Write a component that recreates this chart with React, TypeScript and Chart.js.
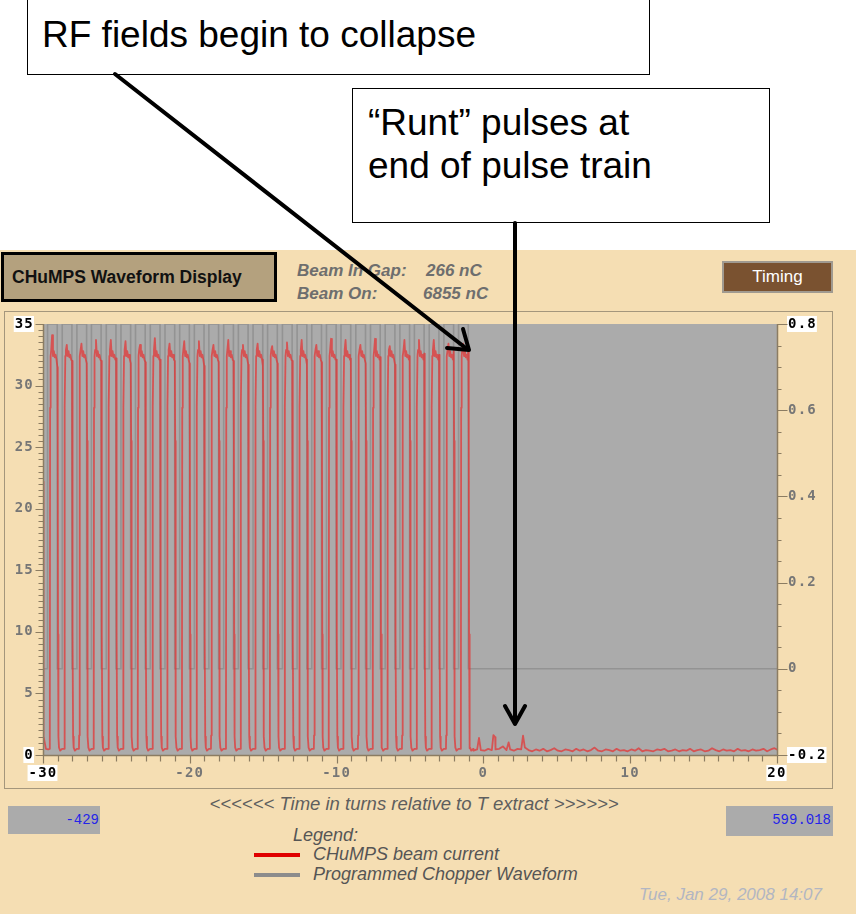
import React, { useEffect, useRef } from "react";
import { Chart, registerables } from "chart.js";

Chart.register(...registerables);

// ---------------- axes ----------------
const timeTicks = [-30, -20, -10, 0, 10, 20];
const currentTicks = [0, 5, 10, 15, 20, 25, 30, 35];
const chopperTicks = [-0.2, 0, 0.2, 0.4, 0.6, 0.8];

// ---------------- beam current pulses (turns, nC) ----------------
const pulseRise = [
  -29.55, -28.55, -27.55, -26.56, -25.55, -24.55, -23.56, -22.55, -21.55, -20.55,
  -19.55, -18.56, -17.55, -16.55, -15.55, -14.56, -13.55, -12.55, -11.55, -10.55,
  -9.56, -8.55, -7.55, -6.55, -5.55, -4.56, -3.55, -2.55, -1.55,
];
const pulsePeak = [
  34.1, 33.3, 33.4, 33.7, 33.7, 33.6, 33.3, 33.85, 33.4, 33.6,
  33.6, 33.3, 33.7, 33.3, 33.4, 33.2, 33.5, 33.7, 33.3, 33.8,
  33.7, 33.3, 33.8, 33.2, 33.7, 33.7, 33.7, 33.4, 33.4,
];
const pulseTail = [
  31.5, 32.0, 31.8, 32.0, 32.2, 31.8, 31.9, 32.1, 32.0, 31.8,
  31.6, 31.9, 32.0, 31.7, 31.6, 31.8, 32.0, 31.7, 31.9, 32.1,
  32.2, 31.8, 32.3, 31.7, 32.4, 32.6, 32.5, 32.8, 33.0,
];
// shape of one pulse: offsets from rise (turns) and levels (nC); "P" = peak, "T" = tail
const pulseShapeT = [0.0, 0.015, 0.035, 0.07, 0.11, 0.17, 0.23, 0.29, 0.35, 0.41, 0.47, 0.53, 0.555, 0.575, 0.6, 0.64, 0.72, 0.85];
const pulseShapeY: (number | string)[] = [0.5, 1.6, 28.2, 32.4, 32.9, "P", 32.4, 32.8, 32.3, 32.5, 32.1, "T", 25.5, 9.8, 1.5, 0.6, 0.35, 0.5];

// partial pulse at the left edge
const leadInX = [-30, -29.98, -29.95, -29.8, -29.65];
const leadInY = [22.2, 9.5, 1.5, 0.5, 0.45];

// residual beam after the pulse train
const tailStart = -0.925;
const tailStep = 0.25;
const tailY = [
  0.55, 0.35, 0.45, 0.4, 0.35, 0.5, 0.4, 0.45, 0.5, 0.7, 0.4, 0.45, 0.35, 0.5, 0.45, 0.6, 0.4, 0.3,
  0.45, 0.35, 0.5, 0.3, 0.4, 0.55, 0.35, 0.3, 0.45, 0.4,
  0.3, 0.5, 0.35, 0.45, 0.3, 0.4, 0.6, 0.35, 0.3, 0.45,
  0.4, 0.3, 0.5, 0.35, 0.4, 0.3, 0.45, 0.35, 0.55, 0.3,
  0.4, 0.35, 0.3, 0.45, 0.4, 0.5, 0.3, 0.35, 0.45, 0.3,
  0.4, 0.35, 0.5, 0.3, 0.4, 0.45, 0.3, 0.35, 0.55, 0.4,
  0.3, 0.45, 0.35, 0.4, 0.3, 0.5, 0.35, 0.4, 0.3, 0.45,
  0.35, 0.4, 0.5, 0.3, 0.45, 0.55, 0.4,
];
// "runt" pulses
const runtX = [-0.3, 0.68, 0.8, 1.72, 2.7];
const runtY = [1.38, 1.62, 1.45, 1.03, 1.57];

// ---------------- programmed chopper waveform (right axis) ----------------
const chopperOn = [
  -29.69, -28.69, -27.69, -26.7, -25.69, -24.69, -23.7, -22.69, -21.69, -20.69,
  -19.69, -18.7, -17.69, -16.69, -15.69, -14.7, -13.69, -12.69, -11.69, -10.69,
  -9.7, -8.69, -7.69, -6.69, -5.69, -4.7, -3.69, -2.69, -1.69,
];
const chopperOff = [
  -29.03, -28.03, -27.03, -26.04, -25.03, -24.03, -23.04, -22.03, -21.03, -20.03,
  -19.03, -18.04, -17.03, -16.03, -15.03, -14.04, -13.03, -12.03, -11.03, -10.03,
  -9.04, -8.03, -7.03, -6.03, -5.03, -4.04, -3.03, -2.03, -1.03,
];
const chopperHigh = 0.8;
const chopperLow = 0;

function buildBeam() {
  const pts: { x: number; y: number }[] = [];
  leadInX.forEach((x, i) => pts.push({ x, y: leadInY[i] }));
  pulseRise.forEach((r, k) => {
    pulseShapeT.forEach((dt, i) => {
      const s = pulseShapeY[i];
      const y = s === "P" ? pulsePeak[k] : s === "T" ? pulseTail[k] : (s as number);
      pts.push({ x: r + dt, y });
    });
  });
  tailY.forEach((y, i) => pts.push({ x: tailStart + i * tailStep, y }));
  runtX.forEach((x, i) => pts.push({ x, y: runtY[i] }));
  pts.sort((a, b) => a.x - b.x);
  return pts;
}

function buildChopper() {
  const pts: { x: number; y: number }[] = [{ x: -30, y: chopperLow }];
  chopperOn.forEach((on, k) => {
    pts.push({ x: on, y: chopperLow }, { x: on, y: chopperHigh }, { x: chopperOff[k], y: chopperHigh }, { x: chopperOff[k], y: chopperLow });
  });
  pts.push({ x: 20, y: chopperLow });
  return pts;
}

const AXIS = "#8B7C62";
const TICKGRAY = "#767676";
const near = (a: number, b: number) => Math.abs(a - b) < 1e-6;

const framePlugin = {
  id: "frame",
  beforeUpdate(chart: any) {
    chart.ctx.letterSpacing = "1.2px";
  },
  beforeDraw(chart: any) {
    const { ctx, chartArea: a } = chart;
    ctx.letterSpacing = "1.2px";
    ctx.save();
    ctx.fillStyle = "#ABABAB";
    ctx.fillRect(a.left, a.top, a.right - a.left, a.bottom - a.top);
    ctx.restore();
  },
  afterDraw(chart: any) {
    const { ctx, chartArea: a, scales } = chart;
    const xs = scales.x, ys = scales.y, y2 = scales.y2;
    ctx.save();
    ctx.strokeStyle = AXIS;
    ctx.lineWidth = 1.5;
    const L = Math.round(a.left) + 0.5, R = Math.round(a.right) + 0.5, B = Math.round(a.bottom) + 0.5;
    ctx.beginPath();
    ctx.moveTo(L, a.top); ctx.lineTo(L, B); ctx.lineTo(R, B); ctx.lineTo(R, a.top);
    ctx.stroke();
    ctx.lineWidth = 1.2;
    ctx.beginPath();
    for (let v = ys.min; v <= ys.max + 1e-9; v += 0.5) {
      const p = Math.round(ys.getPixelForValue(v)) + 0.5;
      const major = near(v % 5, 0);
      ctx.moveTo(L - (major ? 8 : 5), p); ctx.lineTo(L, p);
    }
    for (let i = 0; i <= 20; i++) {
      const v = y2.min + i * 0.05;
      const p = Math.round(y2.getPixelForValue(v)) + 0.5;
      const major = i % 4 === 0;
      ctx.moveTo(R, p); ctx.lineTo(R + (major ? 10 : 4), p);
    }
    for (let v = xs.min; v <= xs.max + 1e-9; v += 1) {
      const p = Math.round(xs.getPixelForValue(v)) + 0.5;
      const major = near(((v % 10) + 10) % 10, 0);
      ctx.moveTo(p, B); ctx.lineTo(p, B + (major ? 8 : 6));
    }
    ctx.stroke();
    ctx.restore();
  },
};

const tickFont = { family: "'DejaVu Sans Mono', monospace", size: 14, weight: "bold" as const, lineHeight: 1.0 };

export default function App() {
  const ref = useRef<HTMLCanvasElement | null>(null);
  useEffect(() => {
    if (!ref.current) return;
    const isEndX = (c: any) => c.tick && (near(c.tick.value, timeTicks[0]) || near(c.tick.value, timeTicks[timeTicks.length - 1]));
    const isEndY = (c: any) => c.tick && (near(c.tick.value, currentTicks[0]) || near(c.tick.value, currentTicks[currentTicks.length - 1]));
    const isEndY2 = (c: any) => c.tick && (near(c.tick.value, chopperTicks[0]) || near(c.tick.value, chopperTicks[chopperTicks.length - 1]));
    const chart = new Chart(ref.current, {
      type: "line",
      data: {
        datasets: [
          {
            label: "CHuMPS beam current",
            data: buildBeam(),
            yAxisID: "y",
            borderColor: "rgba(236,38,38,0.66)",
            borderWidth: 1.8,
            borderJoinStyle: "round",
            pointRadius: 0,
            tension: 0,
          },
          {
            label: "Programmed Chopper Waveform",
            data: buildChopper(),
            yAxisID: "y2",
            borderColor: "#939393",
            borderWidth: 1.6,
            pointRadius: 0,
            tension: 0,
          },
        ],
      },
      options: {
        animation: false,
        responsive: false,
        maintainAspectRatio: false,
        events: [],
        layout: { padding: { top: 24, left: 0, right: 0, bottom: 0 } },
        plugins: { legend: { display: false }, tooltip: { enabled: false } },
        scales: {
          x: {
            type: "linear",
            min: timeTicks[0],
            max: timeTicks[timeTicks.length - 1],
            grid: { display: false, drawTicks: false },
            border: { display: false },
            afterBuildTicks: (s: any) => { s.ticks = timeTicks.map((value) => ({ value })); },
            afterFit: (s: any) => { s.height = 35; },
            ticks: {
              font: tickFont,
              padding: 11,
              maxRotation: 0,
              autoSkip: false,
              callback: (v: any) => String(v),
              color: (c: any) => (isEndX(c) ? "#000" : TICKGRAY),
              showLabelBackdrop: (c: any) => isEndX(c),
              backdropColor: "#FFFFFF",
              backdropPadding: { left: 1, right: 0, top: 1, bottom: 1 },
            } as any,
          },
          y: {
            type: "linear",
            position: "left",
            min: currentTicks[0],
            max: currentTicks[currentTicks.length - 1],
            grid: { display: false, drawTicks: false },
            border: { display: false },
            afterBuildTicks: (s: any) => { s.ticks = currentTicks.map((value) => ({ value })); },
            afterFit: (s: any) => { s.width = 43; },
            ticks: {
              font: tickFont,
              padding: 9,
              autoSkip: false,
              callback: (v: any) => String(v),
              color: (c: any) => (isEndY(c) ? "#000" : TICKGRAY),
              showLabelBackdrop: (c: any) => isEndY(c),
              backdropColor: "#FFFFFF",
              backdropPadding: { left: 1, right: 0, top: 1, bottom: 1 },
            } as any,
          },
          y2: {
            type: "linear",
            position: "right",
            min: chopperTicks[0],
            max: chopperTicks[chopperTicks.length - 1],
            grid: { display: false, drawTicks: false },
            border: { display: false },
            afterBuildTicks: (s: any) => { s.ticks = chopperTicks.map((value) => ({ value })); },
            afterFit: (s: any) => { s.width = 79; },
            ticks: {
              font: tickFont,
              padding: 11,
              autoSkip: false,
              callback: (v: any) => String(Math.round(Number(v) * 10) / 10),
              color: (c: any) => (isEndY2(c) ? "#000" : TICKGRAY),
              showLabelBackdrop: (c: any) => isEndY2(c),
              backdropColor: "#FFFFFF",
              backdropPadding: { left: 1, right: 0, top: 1, bottom: 1 },
            } as any,
          },
        },
      } as any,
      plugins: [framePlugin as any],
    });
    return () => chart.destroy();
  }, []);

  const sans = "'Liberation Sans', Arial, sans-serif";
  const abs = (s: React.CSSProperties): React.CSSProperties => ({ position: "absolute", whiteSpace: "nowrap", ...s });

  return (
    <div style={{ position: "absolute", left: 0, top: 0, width: 856, height: 914, background: "#FFFFFF", overflow: "hidden", fontFamily: sans }}>
      {/* instrument panel background */}
      <div style={abs({ left: 0, top: 250, width: 856, height: 664, background: "#F5DEB3" })} />

      {/* annotation boxes */}
      <div style={abs({ left: 27, top: -1, width: 623, height: 76, border: "1px solid #000", background: "#fff", boxSizing: "border-box" })} />
      <div style={abs({ left: 42, top: 13, fontSize: 37, lineHeight: "43px", color: "#000" })}>RF fields begin to collapse</div>
      <div style={abs({ left: 352, top: 88, width: 418, height: 135, border: "1px solid #000", background: "#fff", boxSizing: "border-box" })} />
      <div style={abs({ left: 368, top: 101, fontSize: 37, lineHeight: "43px", color: "#000" })}>
        “Runt” pulses at
        <br />
        end of pulse train
      </div>

      {/* header */}
      <div style={abs({ left: 1, top: 252, width: 276, height: 50, border: "3px solid #000", background: "#B4A17E", boxSizing: "border-box" })} />
      <div style={abs({ left: 12, top: 267, fontSize: 17.5, lineHeight: "20px", fontWeight: "bold", color: "#111" })}>CHuMPS Waveform Display</div>
      <div style={abs({ left: 297, top: 261, fontSize: 17, lineHeight: "20px", fontWeight: "bold", fontStyle: "italic", color: "#6E6E6E" })}>Beam In Gap:</div>
      <div style={abs({ left: 426, top: 261, fontSize: 17, lineHeight: "20px", fontWeight: "bold", fontStyle: "italic", color: "#6E6E6E" })}>266 nC</div>
      <div style={abs({ left: 297, top: 284, fontSize: 17, lineHeight: "20px", fontWeight: "bold", fontStyle: "italic", color: "#6E6E6E" })}>Beam On:</div>
      <div style={abs({ left: 423, top: 284, fontSize: 17, lineHeight: "20px", fontWeight: "bold", fontStyle: "italic", color: "#6E6E6E" })}>6855 nC</div>
      <div style={abs({ left: 722, top: 261, width: 111, height: 32, background: "#7A5230", border: "2px solid #A09A90", boxSizing: "border-box", color: "#fff", fontSize: 17, lineHeight: "28px", textAlign: "center" })}>Timing</div>

      {/* plot panel frame */}
      <div style={abs({ left: 4, top: 311, width: 829, height: 478, border: "1px solid #A4967C", boxSizing: "border-box" })} />
      <canvas ref={ref} width={856} height={490} style={{ position: "absolute", left: 0, top: 300, width: 856, height: 490 }} />

      {/* footer */}
      <div style={abs({ left: 414, top: 793, transform: "translateX(-50%)", fontSize: 18.5, lineHeight: "22px", fontStyle: "italic", color: "#5E5E5E" })}>
        {"<<<<<< Time in turns relative to T extract >>>>>>"}
      </div>
      <div style={abs({ left: 8, top: 806, width: 92, height: 28, background: "#ABABAB" })} />
      <div style={abs({ left: 8, top: 810, width: 91, fontFamily: "'Liberation Mono', monospace", fontSize: 14, lineHeight: "20px", color: "#2424E8", textAlign: "right" })}>-429</div>
      <div style={abs({ left: 726, top: 806, width: 107, height: 30, background: "#ABABAB" })} />
      <div style={abs({ left: 726, top: 810, width: 105, fontFamily: "'Liberation Mono', monospace", fontSize: 14, lineHeight: "20px", color: "#2424E8", textAlign: "right" })}>599.018</div>

      <div style={abs({ left: 293, top: 824, fontSize: 18, lineHeight: "22px", fontStyle: "italic", color: "#555" })}>Legend:</div>
      <div style={abs({ left: 254, top: 853, width: 46, height: 4, background: "#E00000" })} />
      <div style={abs({ left: 313, top: 843, fontSize: 18, lineHeight: "22px", fontStyle: "italic", color: "#555" })}>CHuMPS beam current</div>
      <div style={abs({ left: 254, top: 873, width: 46, height: 4, background: "#8C8C8C" })} />
      <div style={abs({ left: 313, top: 863, fontSize: 18, lineHeight: "22px", fontStyle: "italic", color: "#555" })}>Programmed Chopper Waveform</div>
      <div style={abs({ left: 600, top: 885, width: 222, fontSize: 17, lineHeight: "20px", fontStyle: "italic", color: "#B2B6C2", textAlign: "right" })}>Tue, Jan 29, 2008 14:07</div>

      {/* annotation arrows */}
      <svg width={856} height={914} style={{ position: "absolute", left: 0, top: 0, pointerEvents: "none" }}>
        <g stroke="#000" strokeWidth={4} fill="none" strokeLinecap="round" strokeLinejoin="round">
          <line x1={115} y1={74} x2={467} y2={349} />
          <polyline points="447,348 469,350 463,329" />
          <line x1={515} y1={223} x2={515} y2={722} />
          <polyline points="505,706 515,724 525,706" />
        </g>
      </svg>
    </div>
  );
}
